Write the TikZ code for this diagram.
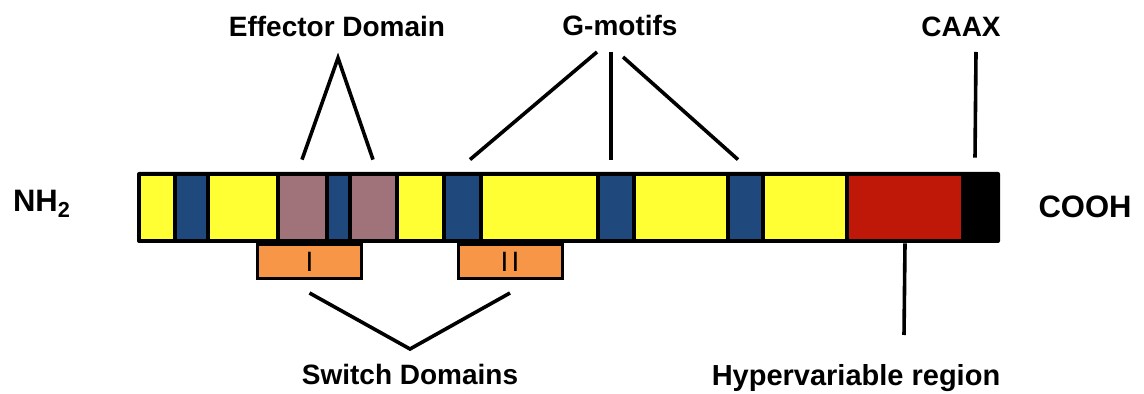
\documentclass[tikz,border=0pt]{standalone}
\usepackage{fontspec}
\setmainfont{Liberation Sans}
\usetikzlibrary{positioning}
\definecolor{rasyellow}{RGB}{255,255,51}
\definecolor{rasblue}{RGB}{31,73,125}
\definecolor{rasmauve}{RGB}{160,115,122}
\definecolor{rasred}{RGB}{192,24,8}
\definecolor{rasorange}{RGB}{247,150,70}

\begin{document}
\begin{tikzpicture}[
    x=0.5pt, y=-0.5pt,
    lbl/.style={font=\bfseries\fontsize{14}{16}\selectfont, inner sep=0pt, anchor=base},
    endlbl/.style={font=\bfseries\fontsize{15.5}{18}\selectfont, inner sep=0pt, anchor=base},
    seg/.style={rectangle, inner sep=0pt, minimum height=31.5pt},
    switchbox/.style={rectangle, draw, line width=1.5pt, fill=rasorange, inner sep=0pt,
        minimum width=52pt, minimum height=17pt, font=\fontsize{14}{16}\selectfont},
    link/.style={line width=1.8pt}
]
    \useasboundingbox (0,0) rectangle (1144,394);

    % switch regions sit under the bar
    \node[switchbox] (sw1) at (309.5,261.5) {I};
    \node[switchbox] (sw2) at (510,261.5) {I\kern1.5pt I};

    % the protein bar
    \node[fill=black, rounded corners=1pt, inner sep=0pt, minimum width=431.5pt, minimum height=35.5pt] (bar) at (568.5,207.5) {};
    \foreach \l/\r/\c [count=\i] in {141/172.5/rasyellow, 176.5/205.5/rasblue, 209.5/275.5/rasyellow,
        279.5/324.5/rasmauve, 328.5/347.5/rasblue, 351.5/394.5/rasmauve, 398.5/441.5/rasyellow,
        445.5/478.5/rasblue, 482.5/595.5/rasyellow, 599.5/631.5/rasblue, 635.5/725.5/rasyellow,
        729.5/760.5/rasblue, 764.5/845/rasyellow, 849/961/rasred, 965/996/black}
        \node[seg, fill=\c, minimum width={(\r-\l)*0.5pt}] (s\i) at ({(\l+\r)/2},207.5) {};

    \node[endlbl] (nh2) at (42,212) {NH\textsubscript{2}};
    \node[endlbl] (cooh) at (1085,218) {COOH};

    \node[lbl] (effector) at (337,37) {Effector Domain};
    \node[lbl] (gmotifs) at (620,36) {G-motifs};
    \node[lbl] (caax) at (961,37) {CAAX};
    \node[lbl] (switchdom) at (410,385) {Switch Domains};
    \node[lbl, font=\bfseries\fontsize{14.5}{16}\selectfont] (hyper) at (856,386) {Hypervariable region};

    \coordinate (effapex) at (338,58);
    \coordinate (gm1) at (597,52);
    \coordinate (gm2) at (611,52);
    \coordinate (gm3) at (623,57);
    \coordinate (caaxtop) at (976,52);
    \coordinate (swapex) at (410,349);
    \coordinate (hyperend) at (904,335);

    \draw[link] ([yshift=8pt]s4.north) -- (effapex) -- ([yshift=8pt]s6.north);
    \draw[link] (gm1) -- ([xshift=4pt,yshift=8pt]s8.north);
    \draw[link] (gm2) -- ([xshift=-2.25pt,yshift=8pt]s10.north);
    \draw[link] (gm3) -- ([xshift=-3.5pt,yshift=8pt]s12.north);
    \draw[link] (caaxtop) -- ([xshift=-2.75pt,yshift=9pt]s15.north);
    \draw[link] ([yshift=-6.5pt]sw1.south) -- (swapex) -- ([yshift=-6.5pt]sw2.south);
    \draw[link] ([yshift=-2pt]s14.south) -- (hyperend);
\end{tikzpicture}
\end{document}
